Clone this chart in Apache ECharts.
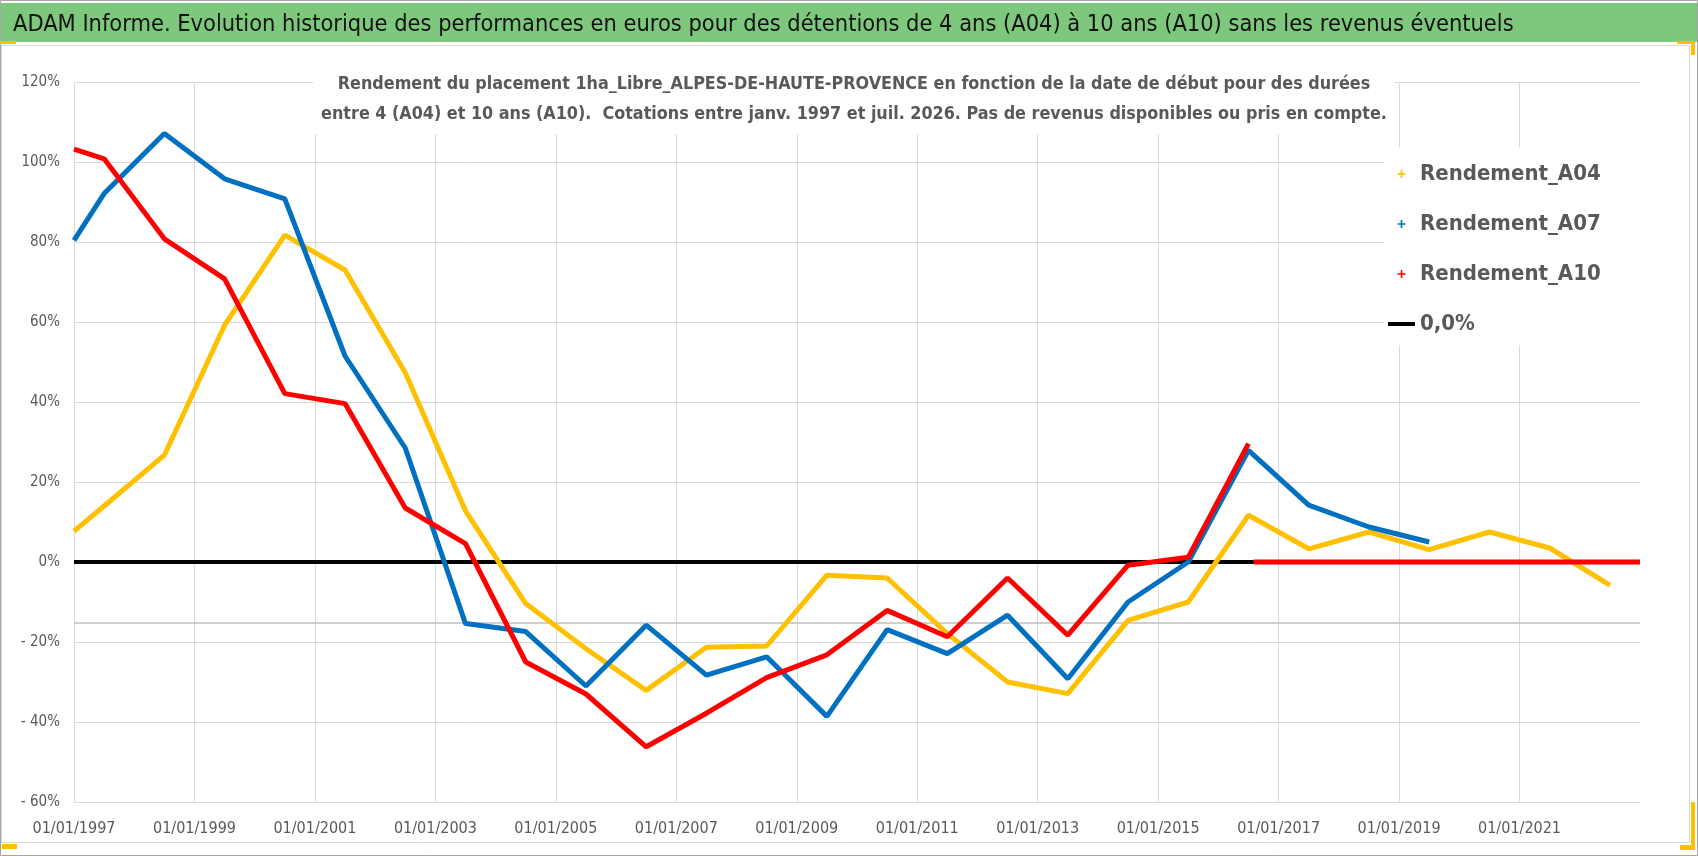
<!DOCTYPE html>
<html>
<head>
<meta charset="utf-8">
<title>ADAM Informe - Rendement 1ha_Libre_ALPES-DE-HAUTE-PROVENCE</title>
<script src="https://cdn.jsdelivr.net/npm/echarts@6.0.0/dist/echarts.min.js"></script>
<style>
  html, body { margin: 0; padding: 0; background: #fff; }
  #chart { width: 1698px; height: 856px; }
</style>
</head>
<body>
<div id="chart"></div>
<script>
// dates de début (points annuels)
const dates = ['1997-01','1997-07','1998-07','1999-07','2000-07','2001-07','2002-07','2003-07','2004-07',
  '2005-07','2006-07','2007-07','2008-07','2009-07','2010-07','2011-07','2012-07','2013-07','2014-07',
  '2015-07','2016-07','2017-07','2018-07','2019-07','2020-07','2021-07','2022-07'];

// rendements en %
const rendementA04 = [7.7, 14, 26.7, 59.2, 81.7, 73, 47.3, 12.8, -10.4, -21.7, -32.1, -21.3, -21, -3.3,
  -4, -17.9, -30, -32.9, -14.6, -10, 11.7, 3.3, 7.5, 3.1, 7.5, 3.5, -5.8];
const rendementA07 = [80.4, 92.1, 107.1, 95.8, 90.8, 51.5, 28.5, -15.4, -17.4, -31, -15.8, -28.3, -23.7,
  -38.6, -16.9, -22.9, -13.3, -29.2, -10, 0, 27.9, 14.2, 8.75, 5.0, null, null, null];
const rendementA10 = [103.2, 100.8, 80.8, 70.8, 42.1, 39.6, 13.5, 4.6, -25, -33, -46.2, -37.8, -28.9,
  -23.2, -12.1, -18.7, -4, -18.3, -0.8, 1.2, 29.6, null, null, null, null, null, null];

// A10 sans cotation apres juil. 2016 : affiche a 0
const datesA10SansCotation = ['2016-08', '2023-01'];
const valeursA10SansCotation = [0, 0];

// ligne 0,0% et trait gris
const datesZero = ['1997-01', '2023-01'];
const valeursZero = [0, 0];
const valeursTraitGris = [-15.25, -15.25];

const anneesTicks = [1997, 1999, 2001, 2003, 2005, 2007, 2009, 2011, 2013, 2015, 2017, 2019, 2021];
const etiquettesX = ['01/01/1997','01/01/1999','01/01/2001','01/01/2003','01/01/2005','01/01/2007',
  '01/01/2009','01/01/2011','01/01/2013','01/01/2015','01/01/2017','01/01/2019','01/01/2021'];
const valeursTicksY = [-60, -40, -20, 0, 20, 40, 60, 80, 100, 120];
const etiquettesY = ['- 60%','- 40%','- 20%','0%','20%','40%','60%','80%','100%','120%'];

const police = '"Liberation Sans Narrow", "DejaVu Sans Condensed", "Liberation Sans", sans-serif';
const gris = '#595959';

function enAnnee(d) {
  const p = d.split('-');
  return Number(p[0]) + (Number(p[1]) - 1) / 12;
}
function paires(ds, vs) {
  return ds.map((d, i) => [enAnnee(d), vs[i]]);
}

const dataA10 = paires(dates, rendementA10).filter(p => p[1] !== null)
  .concat([[enAnnee(datesA10SansCotation[0]) - 0.01, null]])
  .concat(paires(datesA10SansCotation, valeursA10SansCotation));

const plus = 'path://M4,0H6V4H10V6H6V10H4V6H0V4H4Z';
const trait = 'path://M0,0H27V4H0Z';

const chart = echarts.init(document.getElementById('chart'));
chart.setOption({
  backgroundColor: '#fff',
  animation: false,
  textStyle: { fontFamily: police },
  title: [
    {
      text: 'ADAM Informe. Evolution historique des performances en euros pour des détentions de 4 ans (A04) à 10 ans (A10) sans les revenus éventuels',
      left: 13, top: 12, padding: 0,
      textStyle: { fontFamily: police, fontSize: 23.4, fontWeight: 'normal', color: '#111', lineHeight: 26 }
    },
    {
      text: 'Rendement du placement 1ha_Libre_ALPES-DE-HAUTE-PROVENCE en fonction de la date de début pour des durées\nentre 4 (A04) et 10 ans (A10).  Cotations entre janv. 1997 et juil. 2026. Pas de revenus disponibles ou pris en compte.',
      left: 846, top: 62, textAlign: 'center',
      padding: [7, 8, 5, 8],
      backgroundColor: '#fff',
      textStyle: { fontFamily: police, fontSize: 17.8, fontWeight: 'bold', color: gris, lineHeight: 30 }
    }
  ],
  legend: {
    orient: 'vertical',
    left: 1384, top: 147,
    padding: [16, 40, 10, 4],
    backgroundColor: '#fff',
    itemWidth: 27, itemHeight: 8, itemGap: 28,
    textStyle: { fontFamily: police, fontSize: 22, fontWeight: 'bold', color: gris, lineHeight: 22 },
    data: [
      { name: 'Rendement_A04', icon: plus, itemStyle: { borderWidth: 0 } },
      { name: 'Rendement_A07', icon: plus, itemStyle: { borderWidth: 0 } },
      { name: 'Rendement_A10', icon: plus, itemStyle: { borderWidth: 0 } },
      { name: '0,0%', icon: trait, itemStyle: { borderWidth: 0 } }
    ]
  },
  grid: { left: 74, right: 58, top: 82, bottom: 54 },
  xAxis: {
    type: 'value', min: 1997, max: 2023, interval: 2,
    axisLine: { show: false }, axisTick: { show: false },
    axisLabel: {
      margin: 19, fontSize: 16, color: gris, fontFamily: police, showMaxLabel: false,
      formatter: v => { const i = anneesTicks.indexOf(v); return i < 0 ? '' : etiquettesX[i]; }
    },
    splitLine: { show: true, showMaxLine: false, lineStyle: { color: '#d9d9d9', width: 1 } }
  },
  yAxis: {
    type: 'value', min: -60, max: 120, interval: 20,
    axisLine: { show: false }, axisTick: { show: false },
    axisLabel: {
      margin: 14, fontSize: 15, color: gris, fontFamily: police,
      formatter: v => { const i = valeursTicksY.indexOf(v); return i < 0 ? '' : etiquettesY[i]; }
    },
    splitLine: { show: true, lineStyle: { color: '#d9d9d9', width: 1 } }
  },
  graphic: [
    { type: 'rect', silent: true, z: -1, shape: { x: 0.5, y: 0.5, width: 1697, height: 855 }, style: { fill: 'none', stroke: '#a6a6a6', lineWidth: 1 } },
    { type: 'rect', silent: true, z: -1, shape: { x: 1, y: 3, width: 1696, height: 39 }, style: { fill: '#7ec87e' } },
    { type: 'rect', silent: true, z: -1, shape: { x: 1.5, y: 45.5, width: 1688, height: 797 }, style: { fill: 'none', stroke: '#d9d9d9', lineWidth: 1 } },
    { type: 'rect', silent: true, shape: { x: 0, y: 41, width: 16, height: 3 }, style: { fill: '#ffc000' } },
    { type: 'rect', silent: true, shape: { x: 1677, y: 41, width: 18, height: 3 }, style: { fill: '#ffc000' } },
    { type: 'rect', silent: true, shape: { x: 1691, y: 41, width: 4, height: 14 }, style: { fill: '#ffc000' } },
    { type: 'rect', silent: true, shape: { x: 1691, y: 802, width: 4, height: 48 }, style: { fill: '#ffc000' } },
    { type: 'rect', silent: true, shape: { x: 1680, y: 845, width: 15, height: 5 }, style: { fill: '#ffc000' } },
    { type: 'rect', silent: true, shape: { x: 2, y: 844, width: 15, height: 5 }, style: { fill: '#ffc000' } }
  ],
  series: [
    {
      name: '0,0%', type: 'line', data: paires(datesZero, valeursZero),
      showSymbol: false, color: '#000', lineStyle: { color: '#000', width: 4 }, z: 1
    },
    {
      name: 'trait', type: 'line', data: paires(datesZero, valeursTraitGris),
      showSymbol: false, color: '#bfbfbf', lineStyle: { color: '#bfbfbf', width: 1.5 }, z: 1
    },
    {
      name: 'Rendement_A04', type: 'line', data: paires(dates, rendementA04).filter(p => p[1] !== null),
      showSymbol: false, color: '#ffc000', lineStyle: { width: 5 }
    },
    {
      name: 'Rendement_A07', type: 'line', data: paires(dates, rendementA07).filter(p => p[1] !== null),
      showSymbol: false, color: '#0070c0', lineStyle: { width: 5 }
    },
    {
      name: 'Rendement_A10', type: 'line', data: dataA10, connectNulls: false,
      showSymbol: false, color: '#ff0000', lineStyle: { width: 5 }
    }
  ]
});
</script>
</body>
</html>
